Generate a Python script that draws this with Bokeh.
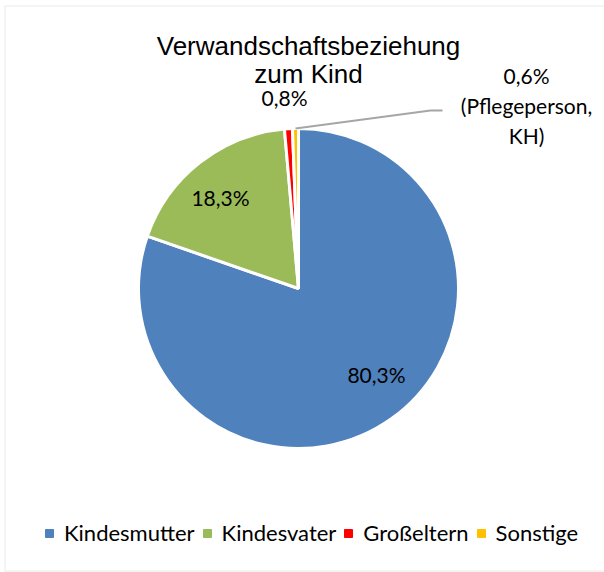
import numpy as np
from bokeh.plotting import figure
from bokeh.models import Legend, LegendItem, Range1d, BoxAnnotation
from bokeh.core.properties import value
from bokeh.embed import file_html
from bokeh.resources import INLINE

# ---- data ----
categories = ["Kindesmutter", "Kindesvater", "Großeltern", "Sonstige"]
shares = [80.3, 18.3, 0.8, 0.6]
colors = ["#4F81BD", "#9BBB59", "#FF0000", "#FFC000"]
label_texts = ["80,3%", "18,3%", "0,8%"]
label_sonstige = ["0,6%", "(Pflegeperson,", "KH)"]
title_lines = ["Verwandschaftsbeziehung", "zum Kind"]

W, H = 604, 572
p = figure(width=W, height=H, output_backend="svg", toolbar_location=None,
           x_range=Range1d(0, W), y_range=Range1d(0, H), min_border=0,
           outline_line_color=None, background_fill_color="white")
p.axis.visible = False
p.grid.visible = False

def X(rx):
    return rx
def Y(ry):
    return H - ry

cx, cy, R = X(298), Y(288), 160

# chart border
p.add_layout(BoxAnnotation(left=X(4.5), right=W + 50, bottom=Y(570.5), top=Y(5.5),
                           fill_alpha=0, line_color="#D9D9D9", line_width=2))

fr = np.array(shares) / sum(shares)
cum = np.concatenate([[0], np.cumsum(fr)])
start = np.pi / 2 - 2 * np.pi * cum[:-1]
end = np.pi / 2 - 2 * np.pi * cum[1:]
mid = (start + end) / 2

for i in range(len(shares)):
    p.wedge(x=cx, y=cy, radius=R, start_angle=start[i], end_angle=end[i],
            direction="clock", fill_color=colors[i], line_color="white",
            line_width=3)

lab_font = value("Lato")
lab_pos = [(376, 374), (220, 197), (284, 97)]
for t, (lx, ly) in zip(label_texts, lab_pos):
    p.text(x=[X(lx)], y=[Y(ly)], text=[t], text_align="center",
           text_baseline="middle", text_font=lab_font, text_font_size="21px",
           text_color="black")

for t, ly in zip(label_sonstige, [75, 105, 135]):
    p.text(x=[X(526)], y=[Y(ly)], text=[t], text_align="center",
           text_baseline="middle", text_font=lab_font, text_font_size="21px",
           text_color="black")

# leader line for Sonstige
sx = cx + R * np.cos(mid[3])
sy = cy + R * np.sin(mid[3])
p.line(x=[sx, X(430), X(442)], y=[sy, Y(110), Y(110)], line_color="#A6A6A6",
       line_width=2)

# title
for t, by in zip(title_lines, [45, 73]):
    p.text(x=[X(308)], y=[Y(by)], text=[t], text_align="center",
           text_baseline="alphabetic", text_font=value("Liberation Sans"),
           text_font_size="26px", text_color="black")

# legend proxies
items = []
for i, c in enumerate(categories):
    r = p.scatter(x=[np.nan], y=[np.nan], marker="square", size=8,
                  fill_color=colors[i], line_color=colors[i])
    items.append(LegendItem(label=c, renderers=[r]))

legend = Legend(items=items, orientation="horizontal", location=(X(39), Y(536) - 10),
                glyph_width=20, glyph_height=20, label_standoff=5, spacing=2,
                label_text_font="Lato", label_text_font_size="22px",
                label_text_color="black",
                label_height=20, padding=0, margin=0, border_line_color=None,
                background_fill_alpha=0)
p.add_layout(legend, "center")

open("out.html", "w").write(file_html(p, INLINE))
